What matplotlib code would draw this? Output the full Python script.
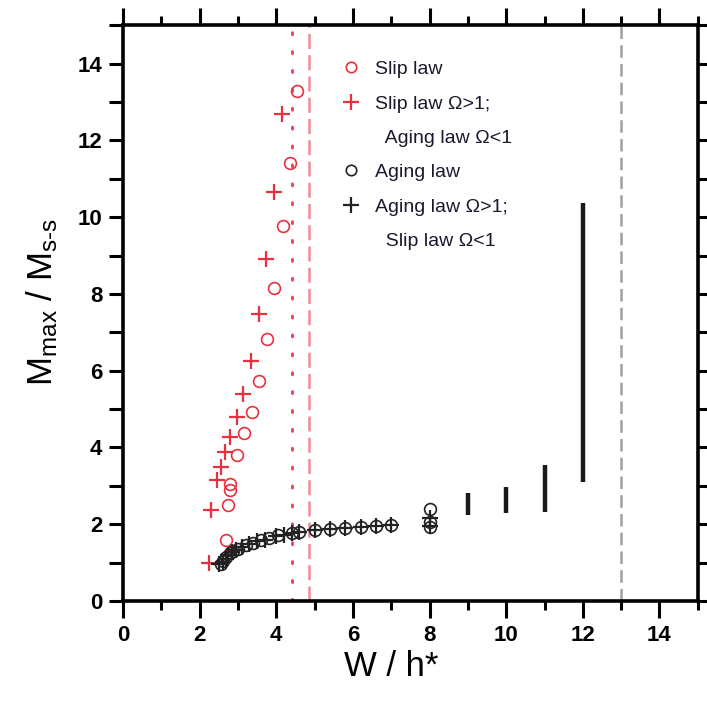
import matplotlib
matplotlib.use("Agg")
import matplotlib.pyplot as plt
from matplotlib.lines import Line2D
from matplotlib.ticker import MultipleLocator

plt.rcParams['font.family'] = ['Liberation Sans', 'DejaVu Sans']
plt.rcParams['mathtext.fontset'] = 'custom'
plt.rcParams['mathtext.rm'] = 'Liberation Sans'
plt.rcParams['mathtext.it'] = 'Liberation Sans'

# Slip law (red circles)
slip_x = [4.55, 4.35, 4.17, 3.95, 3.75, 3.55, 3.37, 3.17, 2.98, 2.8, 2.8, 2.75, 2.68]
slip_y = [13.3, 11.4, 9.77, 8.15, 6.82, 5.74, 4.93, 4.37, 3.8, 3.05, 2.9, 2.5, 1.6]

# Slip law Omega>1; Aging law Omega<1 (red crosses)
slipmix_x = [4.15, 3.93, 3.73, 3.55, 3.35, 3.14, 2.98, 2.78, 2.66, 2.55, 2.45, 2.3, 2.25]
slipmix_y = [12.7, 10.65, 8.9, 7.47, 6.25, 5.39, 4.79, 4.27, 3.88, 3.5, 3.15, 2.37, 1.0]

# Aging law (black circles)
aging_x = [2.55, 2.62, 2.7, 2.78, 2.88, 3.0, 3.2, 3.4, 3.6, 3.8, 4.05, 4.4, 4.6, 5.0, 5.4, 5.8, 6.2, 6.6, 7.0, 8.0, 8.0, 8.0]
aging_y = [0.95, 1.05, 1.15, 1.25, 1.3, 1.36, 1.45, 1.52, 1.58, 1.65, 1.72, 1.77, 1.8, 1.84, 1.87, 1.9, 1.92, 1.95, 1.97, 2.4, 2.05, 1.92]

# Aging law Omega>1; Slip law Omega<1 (black crosses)
agingmix_x = [2.5, 2.6, 2.68, 2.75, 2.85, 2.95, 3.1, 3.3, 3.5, 3.7, 4.0, 4.2, 4.4, 4.6, 5.0, 5.4, 5.8, 6.2, 6.6, 7.0, 8.0, 8.0]
agingmix_y = [0.95, 1.02, 1.1, 1.2, 1.27, 1.33, 1.4, 1.48, 1.55, 1.6, 1.68, 1.72, 1.76, 1.8, 1.84, 1.87, 1.9, 1.92, 1.95, 1.97, 2.15, 1.95]

# Vertical ranges (black bars)
bar_x = [9, 10, 11, 12]
bar_lo = [2.25, 2.3, 2.32, 3.1]
bar_hi = [2.8, 2.97, 3.55, 10.36]

# Reference lines
red_dotted_x = 4.4
red_dashed_x = 4.85
gray_dashed_x = 13.0

RED = '#e8303f'

fig = plt.figure(figsize=(7.07, 7.02), dpi=100)
ax = fig.add_axes([0.174, 0.144, 0.813, 0.82])

ax.axvline(red_dotted_x, color='#e84050', lw=2.0, ls=(0, (0.8, 6)), dash_capstyle='round', zorder=1)
ax.axvline(red_dashed_x, color='#f08c96', lw=1.8, ls=(0, (6, 2.5)), zorder=1)
ax.axvline(gray_dashed_x, color='#a0a0a0', lw=1.8, ls=(0, (5, 2.5)), zorder=1)

ax.vlines(bar_x, bar_lo, bar_hi, color='#1a1a1a', lw=3.2, zorder=3)

ax.plot(slip_x, slip_y, ls='none', marker='o', ms=8.5, mfc='none', mec=RED, mew=1.2, zorder=4)
ax.plot(slipmix_x, slipmix_y, ls='none', marker='+', ms=11, mec=RED, mew=1.6, zorder=4)
ax.plot(aging_x, aging_y, ls='none', marker='o', ms=8.5, mfc='none', mec='#222222', mew=1.2, zorder=5)
ax.plot(agingmix_x, agingmix_y, ls='none', marker='+', ms=11, mec='#222222', mew=1.6, zorder=5)

ax.set_xlim(0, 15)
ax.set_ylim(0, 15)
ax.set_xticks(range(0, 15, 2))
ax.set_yticks(range(0, 15, 2))
ax.xaxis.set_minor_locator(MultipleLocator(1))
ax.yaxis.set_minor_locator(MultipleLocator(1))

for s in ax.spines.values():
    s.set_linewidth(2.6)
ax.tick_params(which='both', direction='out', top=True, right=True, width=2.2)
ax.tick_params(axis='x', which='major', length=12, labelsize=16, pad=5)
ax.tick_params(axis='x', which='minor', length=6.5)
ax.tick_params(axis='y', which='major', length=10, labelsize=16, pad=5)
ax.tick_params(axis='y', which='minor', length=10)
for lab in ax.get_xticklabels() + ax.get_yticklabels():
    lab.set_fontweight('bold')

ax.set_xlabel('W / h*', fontsize=25)
ax.xaxis.set_label_coords(7.0 / 15, -0.085)
ax.set_ylabel(r'M$_{\rm max}$ / M$_{\rm s\text{-}s}$', fontsize=25)
ax.yaxis.set_label_coords(-0.11, 0.52)

handles = [
    Line2D([], [], ls='none', marker='o', ms=7.5, mfc='none', mec=RED, mew=1.2),
    Line2D([], [], ls='none', marker='+', ms=11, mec=RED, mew=1.6),
    Line2D([], [], ls='none', marker='none'),
    Line2D([], [], ls='none', marker='o', ms=7.5, mfc='none', mec='#222222', mew=1.2),
    Line2D([], [], ls='none', marker='+', ms=11, mec='#222222', mew=1.6),
    Line2D([], [], ls='none', marker='none'),
]
labels = ['Slip law', 'Slip law \u03a9>1;', '  Aging law \u03a9<1', 'Aging law',
          'Aging law \u03a9>1;', '  Slip law \u03a9<1']
leg = ax.legend(handles, labels, loc='upper left', bbox_to_anchor=(0.37, 0.952), frameon=False,
                fontsize=14, handlelength=0.8, handletextpad=0.8, labelspacing=0.86, borderaxespad=0)
for t in leg.get_texts():
    t.set_color('#1a1a2e')

fig.savefig('out.png', dpi=100)
